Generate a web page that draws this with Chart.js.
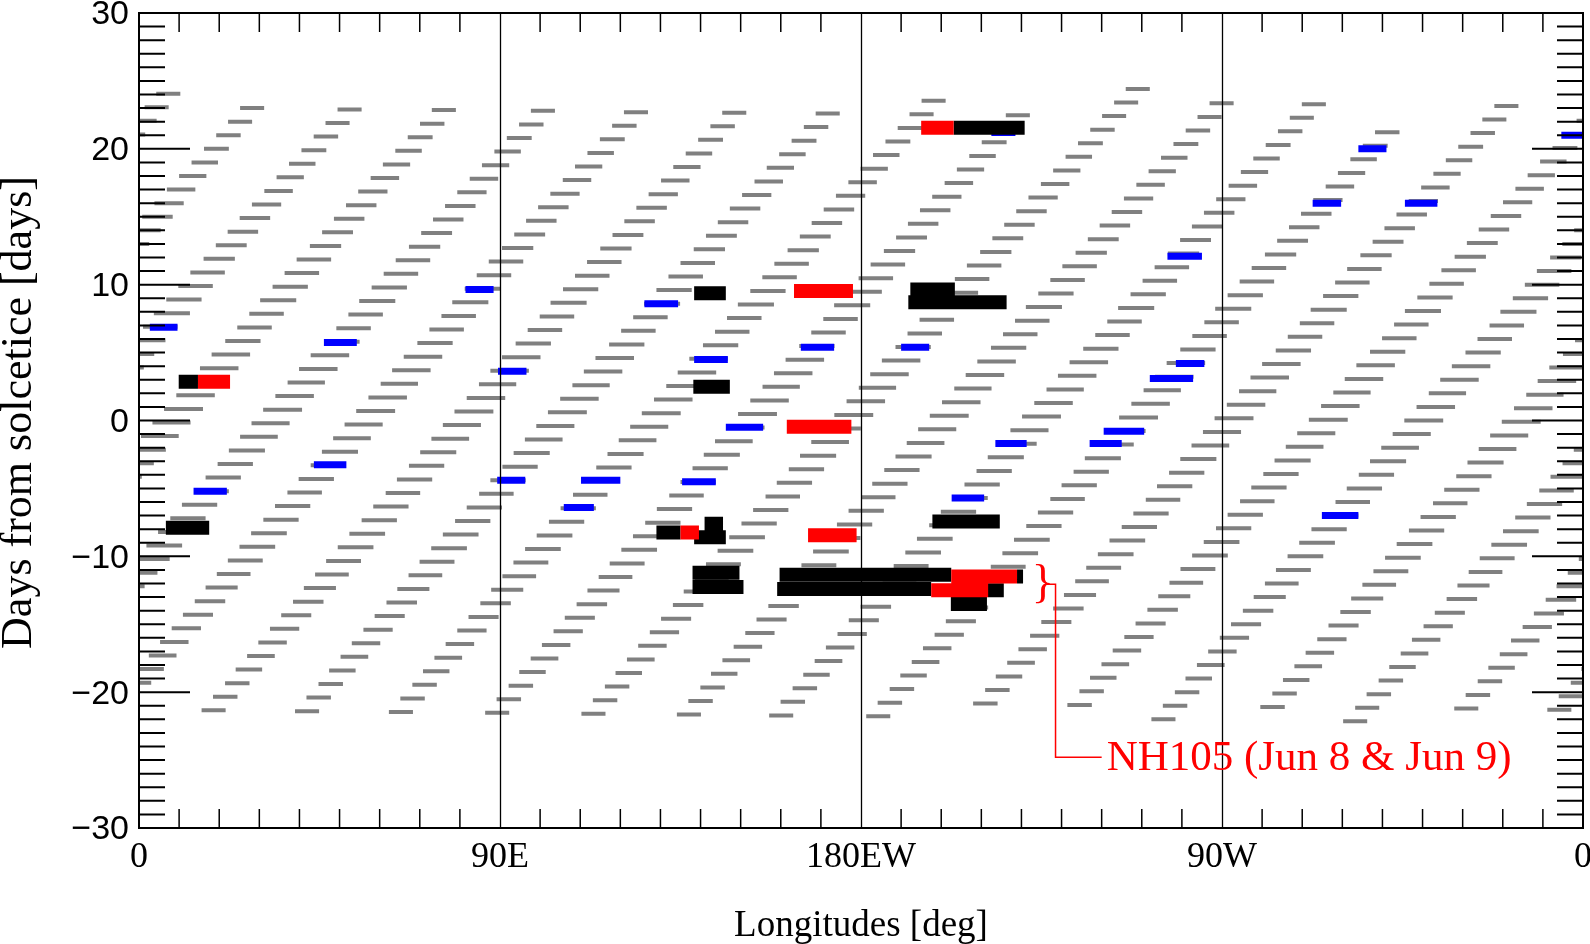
<!DOCTYPE html>
<html>
<head>
<meta charset="utf-8">
<script src="https://cdn.jsdelivr.net/npm/chart.js@4.4.1/dist/chart.umd.min.js"></script>
<style>
    html, body { margin: 0; padding: 0; background: #fff; }
    #wrap { width: 1590px; height: 944px; position: relative; }
</style>
</head>
<body>
<div id="wrap"><canvas id="orbitChart"></canvas></div>
<script>
// axis labels
var X_TICK_VALUES = [0, 90, 180, 270, 360];
var X_TICK_LABELS = ['0', '90E', '180EW', '90W', '0'];
var Y_TICK_VALUES = [30, 20, 10, 0, -10, -20, -30];
var Y_TICK_LABELS = ['30', '20', '10', '0', '\u221210', '\u221220', '\u221230'];

// grey dashes: 15 ground tracks, one dash per day row
var trackLon = [11.1, 35.8, 59.0, 83.5, 106.8, 130.2, 154.2, 178.2, 202.0, 225.0, 249.2, 273.0, 296.5, 320.3, 344.6];
var trackDayOffset = [0.85, 0.80, 0.70, 0.66, 0.60, 0.54, 0.48, 0.41, 0.35, 0.29, 0.23, 0.16, 0.06, 0.00, -0.10];
var trackFirstRow = [-23, -22, -22, -22, -22, -22, -22, -22, -22, -22, -22, -21, -21, -22, -21];
var trackLastRow = [22, 22, 22, 22, 22, 23, 22, 24, 23, 23, 21, 23, 24, 23, 23];

var dashRows = [-23, -22, -21, -20, -19, -18, -17, -16, -15, -14, -13, -12, -11, -10, -9, -8, -7, -6, -5, -4, -3, -2, -1, 0,
    1, 2, 3, 4, 5, 6, 7, 8, 9, 10, 11, 12, 13, 14, 15, 16, 17, 18, 19, 20, 21, 22, 23, 24];
var rowDrift = [-67.9, -64.9, -62.0, -59.0, -56.1, -53.1, -50.2, -47.2, -44.3, -41.3, -38.4, -35.4, -32.5, -29.5, -26.6, -23.6,
    -20.7, -17.7, -14.8, -11.8, -8.9, -5.9, -3.0, 0.0, 3.0, 5.9, 8.9, 11.8, 14.8, 17.7, 20.7, 23.6, 26.6, 29.5, 32.5, 35.4,
    38.4, 41.3, 44.3, 47.2, 50.2, 53.1, 56.1, 59.0, 62.0, 64.9, 67.9, 70.8];
var rowDashWidth = [6.0, 6.0, 6.1, 6.1, 6.6, 6.9, 7.1, 7.3, 7.5, 7.6, 8.0, 8.4, 8.7, 8.9, 8.9, 8.8, 8.8, 8.6, 8.8, 8.8, 9.0, 9.4,
    9.5, 9.7, 9.6, 9.3, 9.6, 9.6, 8.8, 8.6, 8.6, 9.0, 8.8, 8.6, 8.6, 7.8, 7.7, 7.6, 7.6, 7.3, 7.1, 6.8, 6.6, 6.2, 6.1, 6.0,
    6.0, 6.0];

// blue bars
var blueLonStart = [2.7, 13.6, 46.1, 43.6, 81.4, 89.5, 89.3, 105.9, 110.2, 126.0, 138.4, 135.4, 146.3, 165.0, 190.0, 202.6,
    213.5, 237.0, 240.5, 252.0, 258.5, 256.4, 292.6, 304.0, 315.6, 294.9, 354.6, 212.5];
var blueLonEnd = [9.6, 21.9, 54.3, 51.7, 88.4, 96.6, 96.3, 113.4, 120.0, 134.4, 146.8, 143.8, 155.6, 173.3, 197.0, 210.7,
    221.3, 245.0, 250.6, 262.8, 265.6, 265.0, 299.7, 311.0, 323.7, 304.0, 360.0, 218.5];
var blueDay = [6.87, -5.2, 5.74, -3.25, 9.65, 3.62, -4.4, -6.4, -4.4, 8.6, 4.5, -4.5, -0.5, 5.4, 5.4, -5.7,
    -1.7, -1.7, -0.8, 3.1, 4.2, 12.1, 16.0, 20.0, 16.0, -7.0, 21.0, 21.2];

// black bars
var blackLonStart = [9.9, 6.7, 138.4, 138.2, 192.3, 191.8, 203.1, 129.0, 141.0, 138.4, 138.0, 138.0, 197.8, 159.7, 159.1,
    218.9, 211.6, 202.4];
var blackLonEnd = [14.7, 17.5, 146.3, 147.3, 203.4, 216.3, 220.8, 135.0, 145.6, 146.3, 149.7, 150.7, 214.6, 202.5, 197.5,
    220.4, 215.6, 211.4];
var blackDay = [2.85, -7.9, 9.36, 2.49, 9.65, 8.7, 21.55, -8.25, -7.6, -8.6, -11.2, -12.25, -7.43, -11.36, -12.41,
    -11.49, -12.5, -13.5];

// red bars
var redLonStart = [14.7, 163.3, 161.5, 166.8, 195.0, 135.0, 202.5, 197.5];
var redLonEnd = [22.7, 178.0, 177.6, 178.9, 203.1, 139.6, 218.9, 211.7];
var redDay = [2.85, 9.54, -0.46, -8.45, 21.55, -8.25, -11.49, -12.5];

// NH105 note (data coordinates)
var NOTE_TEXT = 'NH105 (Jun 8 & Jun 9)';
var NOTE_BRACE_LON = 222.6;
var NOTE_BRACE_DAY = -12.05;
var NOTE_ELBOW_LON = 228.5;
var NOTE_TEXT_LON = 240.0;
var NOTE_TEXT_DAY = -24.8;

function addDash(points, lon0, lon1, day) {
    var shifts = [0];
    if (lon0 < 0) shifts.push(360);
    if (lon1 > 360) shifts.push(-360);
    shifts.forEach(function (s) {
        points.push({x: lon0 + s, y: day});
        points.push({x: lon1 + s, y: day});
        points.push({x: null, y: null});
    });
}

var greyPoints = [];
for (var k = 0; k < trackLon.length; k++) {
    for (var i = 0; i < dashRows.length; i++) {
        var row = dashRows[i];
        if (row < trackFirstRow[k] || row > trackLastRow[k]) continue;
        var c = ((trackLon[k] + rowDrift[i]) % 360 + 360) % 360;
        var w = rowDashWidth[i];
        addDash(greyPoints, c - w / 2, c + w / 2, row + trackDayOffset[k]);
    }
}

function barPoints(starts, ends, days) {
    var pts = [];
    for (var j = 0; j < starts.length; j++) {
        addDash(pts, starts[j], ends[j], days[j]);
    }
    return pts;
}

function dashDataset(data, color, width, order) {
    return {
        data: data,
        showLine: true,
        borderColor: color,
        borderWidth: width,
        borderCapStyle: 'butt',
        pointRadius: 0,
        pointHoverRadius: 0,
        spanGaps: false,
        clip: 0,
        order: order
    };
}

var frame = {
    id: 'frame',
    afterDatasetsDraw: function (chart) {
        var ctx = chart.ctx;
        var a = chart.chartArea;
        var xs = chart.scales.x;
        var ys = chart.scales.y;
        ctx.save();
        ctx.strokeStyle = '#000';

        // meridian lines
        ctx.lineWidth = 1.3;
        [90, 180, 270].forEach(function (v) {
            var px = Math.round(xs.getPixelForValue(v)) + 0.5;
            ctx.beginPath();
            ctx.moveTo(px, a.top);
            ctx.lineTo(px, a.bottom);
            ctx.stroke();
        });

        // x ticks, top and bottom, every 10 deg
        ctx.lineWidth = 1.5;
        for (var v = 10; v < 360; v += 10) {
            if (v % 90 === 0) continue;
            var px = xs.getPixelForValue(v);
            ctx.beginPath();
            ctx.moveTo(px, a.bottom);
            ctx.lineTo(px, a.bottom - 19);
            ctx.moveTo(px, a.top);
            ctx.lineTo(px, a.top + 19);
            ctx.stroke();
        }

        // y ticks, left and right, every day
        ctx.lineWidth = 2;
        for (var d = -29; d <= 29; d++) {
            var py = ys.getPixelForValue(d);
            var len = d % 10 === 0 ? 51 : 26;
            ctx.beginPath();
            ctx.moveTo(a.left, py);
            ctx.lineTo(a.left + len, py);
            ctx.moveTo(a.right, py);
            ctx.lineTo(a.right - len, py);
            ctx.stroke();
        }

        // frame
        ctx.lineWidth = 2;
        ctx.strokeRect(a.left, a.top, a.right - a.left, a.bottom - a.top);

        // tick labels
        ctx.fillStyle = '#000';
        ctx.font = '34px "Liberation Sans", Arial, sans-serif';
        ctx.textAlign = 'right';
        ctx.textBaseline = 'middle';
        Y_TICK_VALUES.forEach(function (v, n) {
            ctx.fillText(Y_TICK_LABELS[n], a.left - 10, ys.getPixelForValue(v) + 2);
        });
        ctx.font = '36px "Liberation Serif", "Times New Roman", serif';
        ctx.textAlign = 'center';
        ctx.textBaseline = 'alphabetic';
        X_TICK_VALUES.forEach(function (v, n) {
            ctx.fillText(X_TICK_LABELS[n], xs.getPixelForValue(v), a.bottom + 39);
        });

        // axis titles
        ctx.font = '37px "Liberation Serif", "Times New Roman", serif';
        ctx.fillText('Longitudes [deg]', (a.left + a.right) / 2, a.bottom + 108);
        ctx.save();
        ctx.translate(31, (a.top + a.bottom) / 2 - 8);
        ctx.rotate(-Math.PI / 2);
        ctx.font = '44px "Liberation Serif", "Times New Roman", serif';
        ctx.fillText('Days from solcetice [days]', 0, 0);
        ctx.restore();

        // NH105 note
        var bx = xs.getPixelForValue(NOTE_BRACE_LON);
        var by = ys.getPixelForValue(NOTE_BRACE_DAY);
        var ex = xs.getPixelForValue(NOTE_ELBOW_LON);
        var tx = xs.getPixelForValue(NOTE_TEXT_LON);
        var ty = ys.getPixelForValue(NOTE_TEXT_DAY);
        ctx.fillStyle = '#ff0000';
        ctx.strokeStyle = '#ff0000';
        ctx.font = '46px "Liberation Serif", "Times New Roman", serif';
        ctx.textAlign = 'left';
        ctx.fillText('}', bx, by + 13);
        ctx.lineWidth = 1.5;
        ctx.beginPath();
        ctx.moveTo(bx + 13, by);
        ctx.lineTo(ex, by);
        ctx.lineTo(ex, ty);
        ctx.lineTo(tx, ty);
        ctx.stroke();
        ctx.font = '43px "Liberation Serif", "Times New Roman", serif';
        ctx.fillText(NOTE_TEXT, tx + 5, ty + 13);

        ctx.restore();
    }
};

var chart = new Chart(document.getElementById('orbitChart').getContext('2d'), {
    type: 'scatter',
    data: {
        datasets: [
            dashDataset(greyPoints, '#808080', 4, 4),
            dashDataset(barPoints(blueLonStart, blueLonEnd, blueDay), '#0000ff', 7, 3),
            dashDataset(barPoints(blackLonStart, blackLonEnd, blackDay), '#000000', 14, 2),
            dashDataset(barPoints(redLonStart, redLonEnd, redDay), '#ff0000', 14, 1)
        ]
    },
    options: {
        responsive: true,
        maintainAspectRatio: false,
        devicePixelRatio: 1,
        animation: false,
        layout: {
            padding: {left: 139, right: 7, top: 13, bottom: 116}
        },
        plugins: {
            legend: {display: false},
            tooltip: {enabled: false}
        },
        scales: {
            x: {type: 'linear', min: 0, max: 360, display: false},
            y: {type: 'linear', min: -30, max: 30, display: false}
        }
    },
    plugins: [frame]
});
</script>
</body>
</html>
